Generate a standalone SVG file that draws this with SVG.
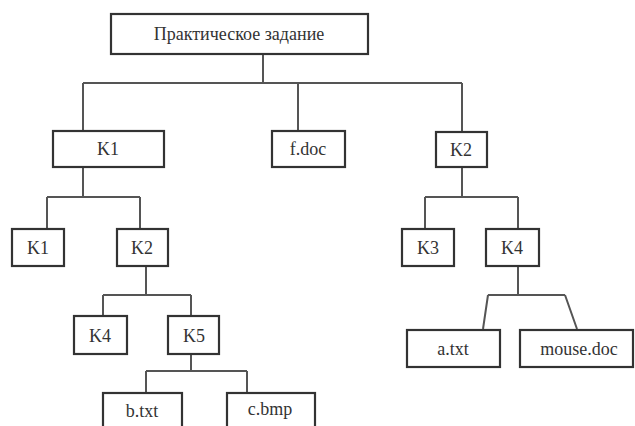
<svg xmlns="http://www.w3.org/2000/svg" width="635" height="426" viewBox="0 0 635 426">
<style>
.box{fill:#fff;stroke:#333;stroke-width:2.2}
.conn{fill:none;stroke:#555;stroke-width:2}
</style>
<rect width="635" height="426" fill="#fff"/>
<g id="connectors" class="conn">
<path d="M263 54V83M83 83H462M83 83V131M298 83V131M462 83V132"/>
<path d="M83 167V197M47 197H140M47 197V229M140 197V229"/>
<path d="M146 266V295M103 295H191M103 295V316M191 295V316"/>
<path d="M191 354V371M146 371H247M146 371V393M247 371V393"/>
<path d="M462 167V197M425 197H518M425 197V229M518 197V229"/>
<path d="M518 266V295M488 295H565M488 295L483 329M565 295L577 329"/>
</g>
<g font-family="Liberation Serif, DejaVu Serif, serif" font-size="18" fill="#333" text-anchor="middle">
<g id="root"><rect class="box" x="111" y="14" width="257" height="40"/><text x="239" y="40">Практическое задание</text></g>
<g id="k1"><rect class="box" x="53" y="131" width="111" height="36"/><text x="108" y="155">K1</text></g>
<g id="fdoc"><rect class="box" x="272" y="131" width="73" height="36"/><text x="308" y="155">f.doc</text></g>
<g id="k2"><rect class="box" x="436" y="132" width="51" height="35"/><text x="461" y="156">K2</text></g>
<g id="k1-k1"><rect class="box" x="12" y="229" width="52" height="37"/><text x="38" y="254">K1</text></g>
<g id="k1-k2"><rect class="box" x="117" y="229" width="51" height="37"/><text x="142" y="254">K2</text></g>
<g id="k4a"><rect class="box" x="74" y="316" width="53" height="38"/><text x="100" y="342">K4</text></g>
<g id="k5"><rect class="box" x="168" y="316" width="51" height="38"/><text x="194" y="342">K5</text></g>
<g id="btxt"><rect class="box" x="103" y="393" width="79" height="40"/><text x="142" y="417">b.txt</text></g>
<g id="cbmp"><rect class="box" x="227" y="393" width="88" height="40"/><text x="270" y="415">c.bmp</text></g>
<g id="k3"><rect class="box" x="402" y="229" width="52" height="37"/><text x="428" y="254">K3</text></g>
<g id="k4b"><rect class="box" x="486" y="229" width="53" height="37"/><text x="512" y="254">K4</text></g>
<g id="atxt"><rect class="box" x="407" y="330" width="93" height="37"/><text x="453" y="355">a.txt</text></g>
<g id="mouse"><rect class="box" x="520" y="330" width="113" height="37"/><text x="579" y="355">mouse.doc</text></g>
</g>
</svg>
